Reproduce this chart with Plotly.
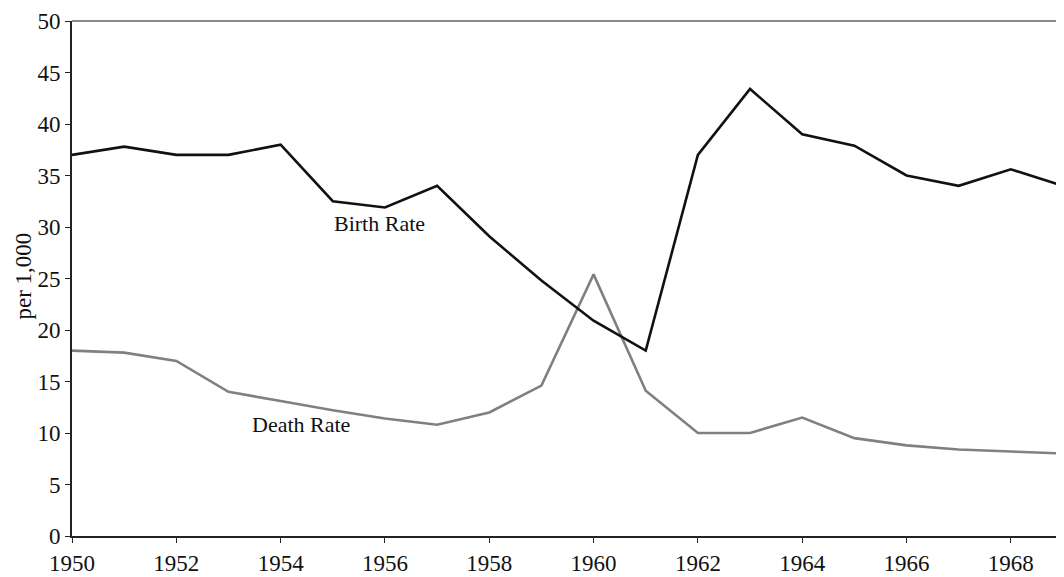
import plotly.graph_objects as go

years = list(range(1950, 1970))
birth_rate = [37.0, 37.8, 37.0, 37.0, 38.0, 32.5, 31.9, 34.0, 29.1, 24.8, 20.9, 18.0,
              37.0, 43.4, 39.0, 37.9, 35.0, 34.0, 35.6, 34.0]
death_rate = [18.0, 17.8, 17.0, 14.0, 13.1, 12.2, 11.4, 10.8, 12.0, 14.6, 25.4, 14.1,
              10.0, 10.0, 11.5, 9.5, 8.8, 8.4, 8.2, 8.0]
x_ticks = list(range(1950, 1969, 2))
y_ticks = list(range(0, 51, 5))

FONT = "Liberation Serif"

fig = go.Figure()
fig.add_trace(go.Scatter(x=years, y=death_rate, mode="lines", name="Death Rate",
                         line=dict(color="#808080", width=2.6), showlegend=False))
fig.add_trace(go.Scatter(x=years, y=birth_rate, mode="lines", name="Birth Rate",
                         line=dict(color="#111111", width=2.6), showlegend=False))

fig.add_annotation(x=1955.9, y=30.3, text="Birth Rate", showarrow=False,
                   font=dict(family=FONT, size=22, color="#111"))
fig.add_annotation(x=1954.4, y=10.8, text="Death Rate", showarrow=False,
                   font=dict(family=FONT, size=22, color="#111"))
# y-axis title
fig.add_annotation(xref="paper", yref="paper", x=0, y=0.5, xshift=-49, yshift=2,
                   text="per 1,000", textangle=-90, showarrow=False,
                   xanchor="center", yanchor="middle",
                   font=dict(family=FONT, size=23, color="#111"))

# top and right frame lines
fig.add_shape(type="line", xref="paper", yref="paper", x0=0, x1=1, y0=1, y1=1,
              line=dict(color="#8a8a8a", width=2))
fig.add_shape(type="line", xref="paper", yref="paper", x0=1, x1=1, y0=0, y1=1,
              line=dict(color="#cccccc", width=1))

fig.update_layout(
    width=1056, height=569,
    margin=dict(l=64, r=1, t=13, b=29),
    plot_bgcolor="white", paper_bgcolor="white",
    font=dict(family=FONT, size=23, color="#111"),
    xaxis=dict(range=[1950, 1969], tickvals=x_ticks, ticktext=[str(v) for v in x_ticks],
               showgrid=False, zeroline=False, showline=True, linecolor="#222",
               linewidth=2, ticks="outside", ticklen=5, tickcolor="#222",
               tickfont=dict(family=FONT, size=23)),
    yaxis=dict(range=[0, 50], tickvals=y_ticks, ticktext=[str(v) for v in y_ticks],
               showgrid=False, zeroline=False, showline=True, linecolor="#222",
               linewidth=2, ticks="outside", ticklen=5, tickcolor="#222",
               tickfont=dict(family=FONT, size=23)),
)

fig.write_html("out.html")
